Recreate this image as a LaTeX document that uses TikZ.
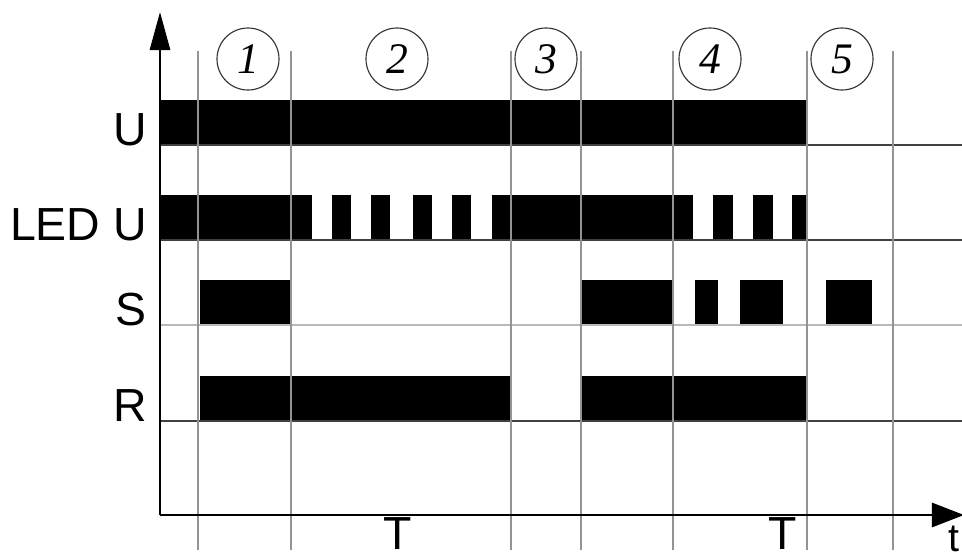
\documentclass[tikz,border=0pt]{standalone}
\usepackage{fontspec}
\setmainfont{Liberation Sans}
\newfontfamily\numfont{Liberation Serif}
\usetikzlibrary{arrows.meta}

\begin{document}
\begin{tikzpicture}[x=0.025cm,y=-0.025cm,
  every node/.style={font=\fontsize{33}{36}\selectfont},
  lab/.style={anchor=base east,inner sep=0pt},
  num/.style={circle,draw=black!80,line width=0.8pt,minimum size=1.55cm,inner sep=0pt,font=\numfont\itshape\fontsize{31}{34}\selectfont},
  grid/.style={draw=gray!85,line width=0.8pt},
  base/.style={draw=black!75,line width=1pt},
  axis/.style={draw=black,line width=2.1pt}]
\useasboundingbox (0,0) rectangle (962,560);
% signals
\fill (160,100) rectangle (807,145);
\foreach \a/\b in {160/312,332/351,371/390,413/432,452/471,492/693,713/733,753/773,792/807}
  \fill (\a,195) rectangle (\b,240);
\foreach \a/\b in {200/291,581/673,695/718,740/783,826/872}
  \fill (\a,280) rectangle (\b,325);
\foreach \a/\b in {200/511,581/807}
  \fill (\a,376) rectangle (\b,421);
\draw[base] (160,145) -- (962,145);
\draw[base] (160,240) -- (962,240);
\draw[draw=gray!55,line width=1.8pt] (160,325) -- (962,325);
\draw[base] (160,421) -- (962,421);
% phases
\foreach \x in {198,291,511,581,673,807,893}
  \draw[grid] (\x,51) -- (\x,550);
\node[num] (n1) at (248,59) {1};
\node[num] (n2) at (397,59) {2};
\node[num] (n3) at (546,59) {3};
\node[num] (n4) at (710,59) {4};
\node[num] (n5) at (842,59) {5};
% axes
\coordinate (o) at (160,515);
\coordinate (ytop) at (160,12);
\coordinate (xend) at (964,515);
\draw[axis,-{Triangle[length=0.95cm,width=0.5cm]}] (o) -- (ytop);
\draw[axis,-{Triangle[length=0.8cm,width=0.6cm]}] (o) -- (xend);
\node[lab] (lu) at (147,145) {U};
\node[lab] (lled) at (147,240) {LED U};
\node[lab] (ls) at (147,325) {S};
\node[lab] (lr) at (147,421) {R};
\node[anchor=base,inner sep=0pt] (t1) at (398,549) {T};
\node[anchor=base,inner sep=0pt] (t2) at (783,549) {T};
\node[anchor=base east,inner sep=0pt,font=\fontsize{28}{30}\selectfont] (tt) at (960,551) {t};
\end{tikzpicture}
\end{document}
